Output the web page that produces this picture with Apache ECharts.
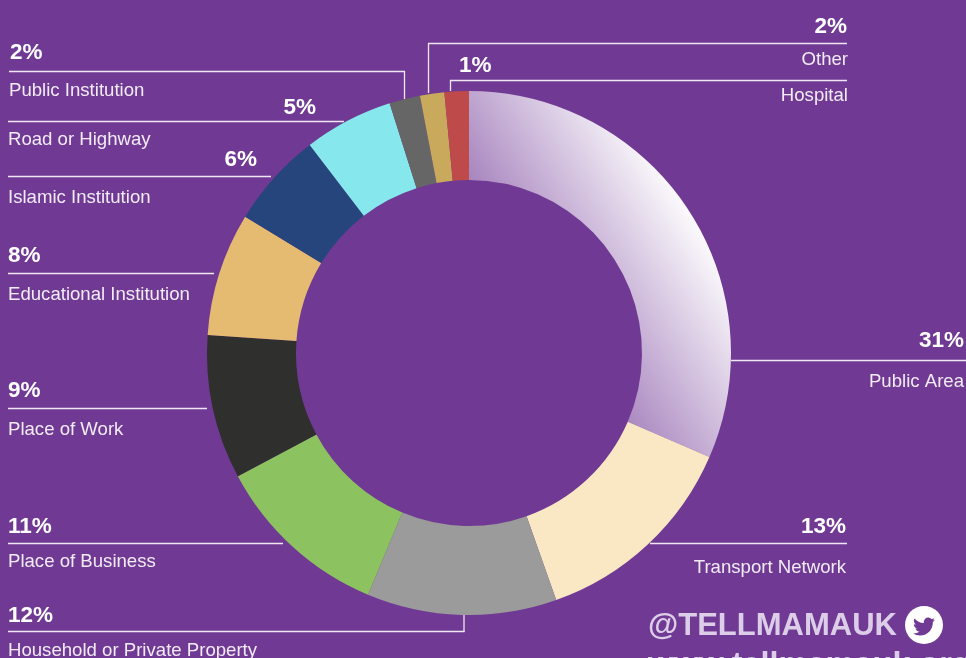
<!DOCTYPE html>
<html><head><meta charset="utf-8">
<style>html,body{margin:0;padding:0;background:#703a94;overflow:hidden}#c{width:966px;height:658px}</style>
<script src="https://cdn.jsdelivr.net/npm/echarts@6/dist/echarts.min.js"></script>
</head><body><div id="c"></div>
<script>
const categories = ['Public Area','Transport Network','Household or Private Property','Place of Business','Place of Work','Educational Institution','Islamic Institution','Road or Highway','Public Institution','Other','Hospital'];
const percentLabels = ['31%','13%','12%','11%','9%','8%','6%','5%','2%','2%','1%'];
const sweepValues = [31.5,13.1,11.7,10.9,8.9,7.6,5.9,5.5,1.9,1.5,1.5];
const sliceColors = ['#ffffff','#fae8c5','#9b9b9b','#8dc261','#2f2f2d','#e5bb71','#26457d','#86e8ec','#666666','#c9a95c','#bf4a4a'];

const birdPath='M23.953 4.57a10 10 0 0 1-2.825.775 4.958 4.958 0 0 0 2.163-2.723c-.951.555-2.005.959-3.127 1.184a4.92 4.92 0 0 0-8.384 4.482C7.69 8.095 4.067 6.13 1.64 3.162a4.822 4.822 0 0 0-.666 2.475c0 1.71.87 3.213 2.188 4.096a4.904 4.904 0 0 1-2.228-.616v.06a4.923 4.923 0 0 0 3.946 4.827 4.996 4.996 0 0 1-2.212.085 4.936 4.936 0 0 0 4.604 3.417 9.867 9.867 0 0 1-6.102 2.105c-.39 0-.779-.023-1.17-.067a13.995 13.995 0 0 0 7.557 2.209c9.053 0 13.998-7.496 13.998-13.985 0-.21 0-.42-.015-.63A9.935 9.935 0 0 0 24 4.59z';
echarts.graphic.registerShape('birdIcon',echarts.graphic.extendPath(birdPath,{}));

const W='#ffffff', L='#efe8f3';
const seg=(x1,y1,x2,y2)=>({type:'line',silent:true,shape:{x1,y1,x2,y2},style:{stroke:L,lineWidth:1.3}});
const txt=(x,y,text,align,bold,size,fill)=>({type:'text',silent:true,x,y,style:{text,align:align,verticalAlign:'middle',fill:fill||(bold?W:'#f1ebf5'),font:(bold?'bold ':'')+(size||(bold?22.5:18.6))+'px "Liberation Sans", Arial, sans-serif'}});

// leader lines
const leaders=[
 [731,360.5,966,360.5],
 [650,543.5,847,543.5],
 [8,631.5,464.5,631.5],[464,632,464,614],
 [8,543.5,283,543.5],
 [8,408.5,207,408.5],
 [8,273.5,214,273.5],
 [8,176.5,271,176.5],
 [8,121.5,344,121.5],
 [9,71.5,405,71.5],[404.5,71,404.5,99],
 [428,43.5,847,43.5],[428.5,43,428.5,93],
 [450,80.5,847,80.5],[450.5,80,450.5,91]
].map(a=>seg(...a));

// [index, pct x, pct y, pct align, name x, name y, name align]
const labelPlaces=[
 [0,964,341,'right',964,382,'right'],
 [1,846,527,'right',846,568,'right'],
 [2,8,616,'left',8,651,'left'],
 [3,8,527,'left',8,562,'left'],
 [4,8,391,'left',8,430,'left'],
 [5,8,256,'left',8,295,'left'],
 [6,257,160,'right',8,198,'left'],
 [7,316,108,'right',8,140,'left'],
 [8,10,53,'left',9,91,'left'],
 [9,847,27,'right',848,60,'right'],
 [10,459,66,'left',848,96,'right']
];
const labels=labelPlaces.flatMap(p=>[
 txt(p[1],p[2],percentLabels[p[0]],p[3],true),
 txt(p[4],p[5],categories[p[0]],p[6],false)
]);

const footer=[
 txt(648,626,'@TELLMAMAUK','left',true,31,'#dccde8'),
 txt(648,666,'www.tellmamauk.org','left',true,32.5,'#dccde8'),
 {type:'circle',silent:true,shape:{cx:924,cy:625,r:19},style:{fill:'#ffffff'}},
 {type:'birdIcon',silent:true,x:913,y:615.5,scaleX:0.92,scaleY:0.92,style:{fill:'#703a94'}}
];

const chart=echarts.init(document.getElementById('c'),null,{renderer:'canvas'});
const firstFill=new echarts.graphic.LinearGradient(456,188,620,86,[
 {offset:0,color:'#a07ab9'},{offset:1,color:'#ffffff'}],true);
chart.setOption({
 backgroundColor:'#703a94',
 animation:false,
 series:[{
  type:'pie',
  center:[469,353],
  radius:[173,262],
  startAngle:90,
  clockwise:true,
  silent:true,
  label:{show:false},labelLine:{show:false},
  itemStyle:{borderWidth:0},
  data:categories.map((name,i)=>({name,value:sweepValues[i],itemStyle:{color:i===0?firstFill:sliceColors[i]}}))
 }],
 graphic:{elements:[...leaders,...labels,...footer]}
});
</script></body></html>
